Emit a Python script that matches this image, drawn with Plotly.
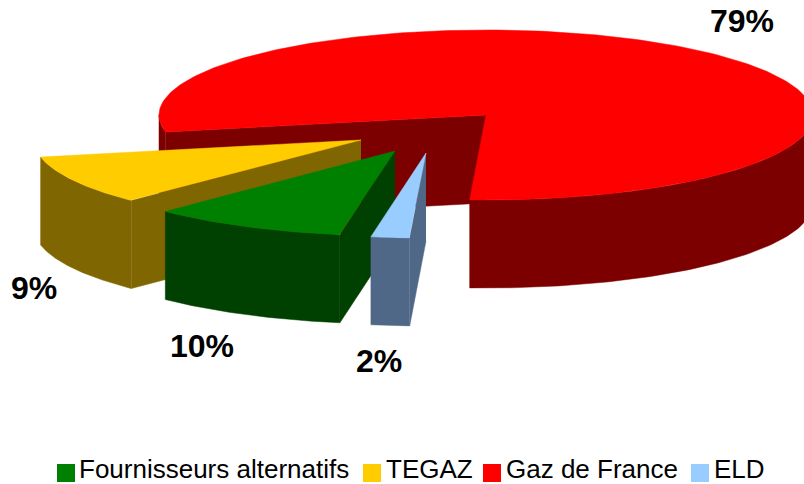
import numpy as np
import plotly.graph_objects as go

# Data
categories = ["Fournisseurs alternatifs", "TEGAZ", "Gaz de France", "ELD"]
shares = [9.7, 9.4, 79.0, 1.9]

# Styles
top_colors = ["#008000", "#FFCC00", "#FF0000", "#99CCFF"]
side_colors = ["#004000", "#806600", "#7C0000", "#4F6888"]
FONT = "Liberation Sans, Arial, sans-serif"

# Pseudo-3D pie geometry (pixels)
first_slice_angle = 260.3
rx, ry, depth = 327.0, 85.0, 88.0
centers = {"Fournisseurs alternatifs": (395, 151), "TEGAZ": (361, 140),
           "Gaz de France": (486, 115), "ELD": (426, 153)}
draw_order = ["Gaz de France", "TEGAZ", "Fournisseurs alternatifs", "ELD"]
label_pos = {"Fournisseurs alternatifs": (201.5, 346), "TEGAZ": (34, 288),
             "Gaz de France": (741.5, 21), "ELD": (378.5, 361)}
legend_pos = {"Fournisseurs alternatifs": (66, 79), "TEGAZ": (372, 386),
              "Gaz de France": (492, 506), "ELD": (700, 714)}
legend_y = 473

# Slice angle spans, clockwise
spans = {}
a = first_slice_angle
for name, v in zip(categories, shares):
    spans[name] = (a, a - v * 3.6)
    a -= v * 3.6


def rim(cx, cy, t):
    r = np.radians(t)
    return cx + rx * np.cos(r), cy - ry * np.sin(r)


def poly(xs, ys, color, legendgroup):
    return go.Scatter(x=list(xs), y=list(ys), mode="lines", fill="toself",
                      fillcolor=color, line=dict(color=color, width=0.5),
                      hoverinfo="skip", showlegend=False, legendgroup=legendgroup)


fig = go.Figure()
for name in draw_order:
    i = categories.index(name)
    cx, cy = centers[name]
    t0, t1 = spans[name]
    # cut face on the leading edge
    ex, ey = rim(cx, cy, t0)
    fig.add_trace(poly([cx, ex, ex, cx], [cy, ey, ey + depth, cy + depth], side_colors[i], name))
    # outer wall, only where the rim faces the viewer (lower half)
    for k in range(-1, 2):
        lo = max(t1, 180 + 360 * k)
        hi = min(t0, 360 + 360 * k)
        if hi > lo:
            ts = np.linspace(hi, lo, 90)
            px, py = rim(cx, cy, ts)
            fig.add_trace(poly(np.r_[px, px[::-1]], np.r_[py, py[::-1] + depth], side_colors[i], name))
    # top surface
    ts = np.linspace(t0, t1, 240)
    px, py = rim(cx, cy, ts)
    fig.add_trace(poly(np.r_[cx, px, cx], np.r_[cy, py, cy], top_colors[i], name))

# Value labels
for name, v in zip(categories, shares):
    lx, ly = label_pos[name]
    fig.add_annotation(x=lx, y=ly, text=f"<b>{round(v)}%</b>", showarrow=False, xanchor="center", yanchor="middle",
                       font=dict(family=FONT, size=32, color="black"))

# Legend
for i, name in enumerate(categories):
    sx, tx = legend_pos[name]
    fig.add_trace(go.Scatter(x=[sx], y=[legend_y], mode="markers", name=name, showlegend=False,
                             marker=dict(symbol="square", size=18, color=top_colors[i]),
                             hoverinfo="name", cliponaxis=False))
    fig.add_annotation(x=tx, y=legend_y - 4, text=name, showarrow=False, xanchor="left", yanchor="middle",
                       xshift=-2, font=dict(family=FONT, size=26, color="black"))

fig.update_layout(width=804, height=484, margin=dict(l=0, r=0, t=0, b=0),
                  paper_bgcolor="white", plot_bgcolor="white", showlegend=False,
                  xaxis=dict(range=[0, 804], visible=False, fixedrange=True),
                  yaxis=dict(range=[484, 0], visible=False, fixedrange=True))
fig.write_html("out.html", config=dict(displayModeBar=False),
               post_script="document.body.style.margin='0';document.documentElement.style.overflow='hidden';")
